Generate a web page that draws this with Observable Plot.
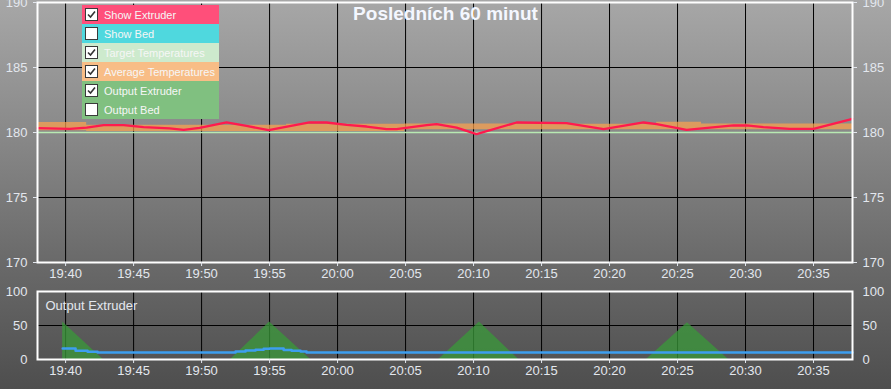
<!DOCTYPE html>
<html><head><meta charset="utf-8">
<script src="https://cdn.jsdelivr.net/npm/d3@7"></script>
<script src="https://cdn.jsdelivr.net/npm/@observablehq/plot@0.6"></script>
<style>
html,body{margin:0;padding:0;background:#777;}
body{width:891px;height:389px;overflow:hidden;}
#wrap{position:relative;width:891px;height:389px;background:linear-gradient(to bottom,#a7a7a7 0%,#8a8a8a 33%,#6a6a6a 67%,#4e4e4e 100%);font-family:"Liberation Sans",Arial,sans-serif;}
#wrap svg{display:block;}
#title{position:absolute;left:0;top:3px;width:891px;text-align:center;font-weight:bold;font-size:19px;color:#f4f7ff;line-height:22px;}
#legend{position:absolute;left:82px;top:5px;width:137px;}
.row{height:19px;display:flex;align-items:center;font-size:11px;color:#f6f6f6;white-space:nowrap;}
.cb{box-sizing:border-box;width:13px;height:13px;border:1px solid #3a3a3a;background:#fff;margin-left:3px;margin-right:6px;display:flex;align-items:center;justify-content:center;}
</style>
</head><body>
<div id="wrap"></div>
<script>
// ---- data ----
const timeStart = "19:37:56";
const timeEnd = "20:37:52";
const xTickLabels = ["19:40","19:45","19:50","19:55","20:00","20:05","20:10","20:15","20:20","20:25","20:30","20:35"];
const yTicksTop = [170, 175, 180, 185, 190];
const yTicksBottom = [0, 50, 100];

const targetTemp = 180;

const extruderTimes = ["19:37:56","19:40:18","19:41:33","19:42:48","19:44:16","19:45:44","19:47:39","19:48:41","19:49:51","19:51:50","19:53:18","19:54:56","19:57:56","19:59:11","20:00:40","20:02:08","20:03:36","20:04:20","20:06:33","20:07:17","20:08:45","20:10:13","20:13:10","20:16:50","20:19:34","20:22:30","20:23:28","20:25:40","20:29:07","20:30:04","20:31:19","20:33:14","20:35:00","20:37:52"];
const extruderTemps = [180.33,180.28,180.38,180.56,180.56,180.41,180.31,180.2,180.36,180.77,180.51,180.18,180.77,180.77,180.59,180.46,180.26,180.26,180.56,180.64,180.37,179.87,180.77,180.72,180.26,180.77,180.64,180.2,180.54,180.54,180.41,180.28,180.28,181.05];

const avgTimes = ["19:37:56","19:41:33","19:56:15","20:04:56","20:16:37","20:23:28","20:26:46","20:37:52"];
const avgLow  = [180.13,180.08,180.08,180.22,180.22,180.22,180.22,180.22];
const avgHigh = [180.77,180.56,180.64,180.66,180.64,180.78,180.66,180.66];

const outputTimes = ["19:39:47","19:42:46","19:52:08","19:55:00","19:58:01","20:07:26","20:10:26","20:13:19","20:22:43","20:25:44","20:28:45","20:37:52"];
const outputValues = [55,0,0,55,0,0,55,0,0,54,0,0];

const outputAvgTimes = ["19:39:47","19:40:44","19:41:37","19:42:21","19:52:30","19:53:14","19:53:58","19:54:34","19:55:00","19:56:02","19:56:37","19:57:17","19:57:43","20:37:52"];
const outputAvgValues = [16.2,12.8,11.4,10.3,11.8,13.3,14.3,15.8,16.2,13.8,12.8,11.8,10.3,10.3];

const legendLabels = ["Show Extruder","Show Bed","Target Temperatures","Average Temperatures","Output Extruder","Output Bed"];
const legendColors = ["#ff4f7a","#4fd8de","#cdeacd","#f8bd86","#80c080","#80c080"];
const legendChecked = [true,false,true,true,true,false];

const titleText = "Posledních 60 minut";
const bottomLabel = "Output Extruder";

// ---- build ----
const parse = d3.utcParse("%H:%M:%S");
const parseHM = d3.utcParse("%H:%M");
const X0 = parse(timeStart), X1 = parse(timeEnd);
const xTicks = xTickLabels.map(parseHM);
const fmt = d3.utcFormat("%H:%M");

const extruder = extruderTimes.map((t,i)=>({t:parse(t), v:extruderTemps[i]}));
const band = avgTimes.map((t,i)=>({t:parse(t), lo:avgLow[i], hi:avgHigh[i]}));
const output = outputTimes.map((t,i)=>({t:parse(t), v:outputValues[i]}));
const outputAvg = outputAvgTimes.map((t,i)=>({t:parse(t), v:outputAvgValues[i]}));

const fontFamily = "'Liberation Sans', Arial, sans-serif";
const baseStyle = {background:"transparent", color:"#e3e7ee", fontFamily, fontSize:"13px"};

const topChart = Plot.plot({
  width: 891, height: 282,
  marginLeft: 37, marginRight: 39, marginTop: 2, marginBottom: 20,
  style: baseStyle,
  x: {type:"utc", domain:[X0, X1]},
  y: {domain:[170, 190]},
  marks: [
    Plot.ruleX(xTicks, {stroke:"black", strokeWidth:1}),
    Plot.ruleY(yTicksTop, {stroke:"black", strokeWidth:1}),
    Plot.areaY(band, {x:"t", y1:"lo", y2:"hi", curve:"step-after", fill:"#ffa24c", fillOpacity:0.7}),
    Plot.ruleY([targetTemp], {stroke:"#b8e9b2", strokeWidth:1.5}),
    Plot.lineY(extruder, {x:"t", y:"v", stroke:"#ff1a4e", strokeWidth:2.3}),
    Plot.frame({stroke:"white", strokeWidth:2}),
    Plot.axisX({ticks:xTicks, tickFormat:fmt, tickSize:4, tickPadding:2, label:null}),
    Plot.axisY({anchor:"left", ticks:yTicksTop, tickSize:4, tickPadding:6, label:null}),
    Plot.axisY({anchor:"right", ticks:yTicksTop, tickSize:4, tickPadding:6, label:null})
  ]
});

const bottomChart = Plot.plot({
  width: 891, height: 107,
  marginLeft: 37, marginRight: 39, marginTop: 9, marginBottom: 30,
  style: baseStyle,
  x: {type:"utc", domain:[X0, X1]},
  y: {domain:[0, 100]},
  marks: [
    Plot.ruleX(xTicks, {stroke:"black", strokeWidth:1}),
    Plot.ruleY([50], {stroke:"black", strokeWidth:1}),
    Plot.areaY(output, {x:"t", y:"v", fill:"#3a9a3a", fillOpacity:0.75}),
    Plot.lineY(outputAvg, {x:"t", y:"v", curve:"step-after", stroke:"#3d9ef0", strokeWidth:2.5}),
    Plot.frame({stroke:"white", strokeWidth:2}),
    Plot.text([bottomLabel], {frameAnchor:"top-left", dx:8, dy:14, lineAnchor:"middle", textAnchor:"start", fill:"#e3e7ee", fontSize:13}),
    Plot.axisX({ticks:xTicks, tickFormat:fmt, tickSize:4, tickPadding:2, label:null}),
    Plot.axisY({anchor:"left", ticks:yTicksBottom, tickSize:0, tickPadding:10, label:null}),
    Plot.axisY({anchor:"right", ticks:yTicksBottom, tickSize:0, tickPadding:10, label:null})
  ]
});

const wrap = document.getElementById("wrap");
wrap.appendChild(topChart);
wrap.appendChild(bottomChart);

const title = document.createElement("div");
title.id = "title";
title.textContent = titleText;
wrap.appendChild(title);

const legend = document.createElement("div");
legend.id = "legend";
legendLabels.forEach((lab,i)=>{
  const row = document.createElement("div");
  row.className = "row";
  row.style.background = legendColors[i];
  const cb = document.createElement("div");
  cb.className = "cb";
  if (legendChecked[i]) {
    cb.innerHTML = '<svg width="11" height="11" viewBox="0 0 11 11"><path d="M2 5.5 L4.5 8 L9 2.5" fill="none" stroke="#333" stroke-width="1.6"/></svg>';
  }
  const span = document.createElement("span");
  span.textContent = lab;
  row.appendChild(cb);
  row.appendChild(span);
  legend.appendChild(row);
});
wrap.appendChild(legend);
</script>
</body></html>
